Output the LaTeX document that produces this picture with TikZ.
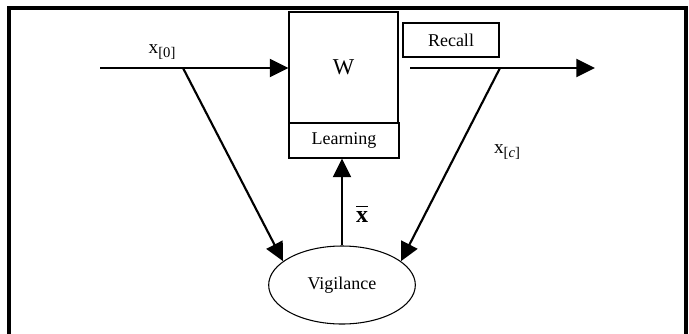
\documentclass[tikz,border=0pt]{standalone}
\usepackage{fontspec}
\setmainfont{Liberation Serif}
\usetikzlibrary{arrows.meta,shapes}

\begin{document}
\begin{tikzpicture}[x=0.75pt,y=-0.75pt,
    box/.style={draw,line width=0.8pt,inner sep=0pt,font=\fontsize{13.5}{15}\selectfont},
    flow/.style={line width=1.6pt,-{Triangle[length=14pt,width=13.5pt]}},
    lbl/.style={inner sep=0pt,font=\fontsize{14.5}{16}\selectfont}]
    \useasboundingbox (0,0) rectangle (689,333);
    \draw[line width=2.4pt] (9,334) -- (9,8) -- (686,8) -- (686,334);

    \node[box,minimum width=81.75pt,minimum height=83.25pt,font=\fontsize{17}{19}\selectfont] (W) at (343.5,67.5) {W};
    \node[box,minimum width=82.5pt,minimum height=26.25pt] (learn) at (344,140.5) {Learning};
    \node[box,minimum width=72pt,minimum height=25.5pt] (recall) at (451,40) {Recall};
    \node[box,ellipse,minimum width=110pt,minimum height=58.5pt] (vig) at (342,285) {Vigilance};

    \coordinate (in) at (100,68);
    \coordinate (splitL) at (183,68);
    \coordinate (outA) at (410,68);
    \coordinate (splitR) at (500,68);
    \coordinate (outB) at (595,68);

    \draw[flow] (in) -- (W.west |- in);
    \draw[flow] (outA) -- (outB);
    \draw[flow] (splitL) -- (vig.158);
    \draw[flow] (splitR) -- (vig.22);
    \draw[flow] (vig.north) -- (vig.north |- learn.south);

    \node[lbl] (x0) at (162,52) {x\raisebox{-0.45ex}{\fontsize{11}{12}\selectfont[0]}};
    \node[lbl] (xc) at (507,152) {x\raisebox{-0.45ex}{\fontsize{11}{12}\selectfont[\textit{c}]}};
    \node[lbl,font=\fontsize{18}{20}\selectfont\bfseries] (xbar) at (362,214) {x\llap{\rule[0.62em]{0.48em}{1.3pt}}};
\end{tikzpicture}
\end{document}
